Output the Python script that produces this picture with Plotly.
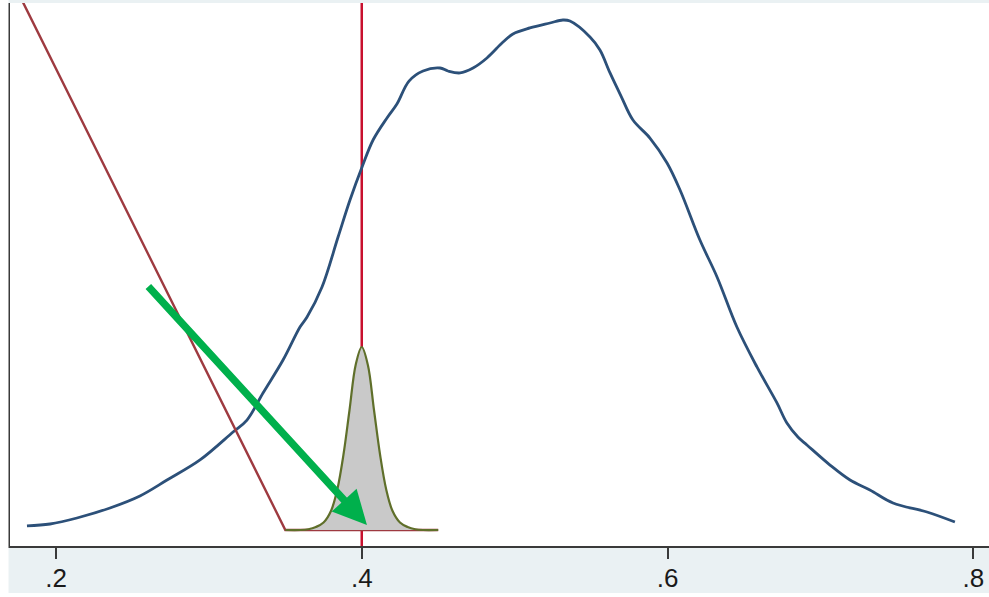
import plotly.graph_objects as go

# Posterior-like density (blue)
dens_x = [0.1810, 0.1961, 0.2137, 0.2353, 0.2549, 0.2726, 0.2942, 0.3158, 0.3249, 0.3354,
          0.3485, 0.3596, 0.3642, 0.3740, 0.3845, 0.3923, 0.4002, 0.4074, 0.4165, 0.4230,
          0.4309, 0.4401, 0.4512, 0.4564, 0.4643, 0.4728, 0.4819, 0.4924, 0.4989, 0.5100,
          0.5231, 0.5316, 0.5362, 0.5493, 0.5558, 0.5624, 0.5696, 0.5774, 0.5885, 0.5997,
          0.6082, 0.6212, 0.6324, 0.6454, 0.6585, 0.6716, 0.6781, 0.6853, 0.6912, 0.7063,
          0.7194, 0.7324, 0.7475, 0.7697, 0.7880]
dens_y = [0.027, 0.040, 0.080, 0.147, 0.227, 0.333, 0.467, 0.653, 0.733, 0.913,
          1.133, 1.353, 1.420, 1.620, 1.953, 2.200, 2.420, 2.600, 2.747, 2.840,
          2.993, 3.060, 3.080, 3.060, 3.047, 3.080, 3.147, 3.253, 3.307, 3.347,
          3.380, 3.400, 3.393, 3.287, 3.200, 3.047, 2.893, 2.733, 2.613, 2.447,
          2.267, 1.933, 1.687, 1.353, 1.087, 0.847, 0.713, 0.620, 0.567, 0.433,
          0.333, 0.267, 0.180, 0.120, 0.053]

# Prior line (dark red)
prior_x = [0.170, 0.350, 0.450]
prior_y = [3.69, 0.0, 0.0]

# Narrow peaked curve (gray fill)
peak_x = [0.350, 0.360, 0.365, 0.370, 0.375, 0.380, 0.384, 0.388, 0.392, 0.396, 0.400,
          0.404, 0.408, 0.412, 0.416, 0.420, 0.425, 0.430, 0.435, 0.440, 0.450]
peak_y = [0.0, 0.0, 0.005, 0.02, 0.05, 0.13, 0.27, 0.50, 0.80, 1.10, 1.22,
          1.10, 0.80, 0.50, 0.27, 0.13, 0.05, 0.02, 0.005, 0.0, 0.0]

ref_x = 0.4
tick_vals = [0.2, 0.4, 0.6, 0.8]
tick_text = ['.2', '.4', '.6', '.8']

# Arrow endpoints (data coords)
arrow_tail = (0.2595, 1.633)
arrow_head = (0.4034, 0.033)

fig = go.Figure()
fig.add_trace(go.Scatter(x=[ref_x, ref_x], y=[-0.5, 4.0], mode='lines',
                         line=dict(color='#C8102E', width=2.5), hoverinfo='skip'))
fig.add_trace(go.Scatter(x=dens_x, y=dens_y, mode='lines', line_shape='spline',
                         line=dict(color='#2C5079', width=2.8), hoverinfo='skip'))
fig.add_trace(go.Scatter(x=prior_x, y=prior_y, mode='lines',
                         line=dict(color='#9E3A40', width=2.4), hoverinfo='skip'))
fig.add_trace(go.Scatter(x=peak_x, y=peak_y, mode='lines', line_shape='spline',
                         fill='toself', fillcolor='#C9C9C9',
                         line=dict(color='#5F6F2A', width=2.2), hoverinfo='skip'))

fig.add_annotation(x=arrow_head[0], y=arrow_head[1], ax=arrow_tail[0], ay=arrow_tail[1],
                   xref='x', yref='y', axref='x', ayref='y', text='', showarrow=True,
                   arrowhead=2, arrowsize=0.9, arrowwidth=7.5, arrowcolor='#00B04C',
                   standoff=0, startstandoff=0)

W, H = 989, 597
L, R, T, B = 10, 0, 3, 51
pw = W - L - R
ph = H - T - B

fig.update_layout(
    width=W, height=H,
    margin=dict(l=L, r=R, t=T, b=B, pad=0),
    paper_bgcolor='#EAF1F3', plot_bgcolor='white',
    showlegend=False,
    xaxis=dict(range=[0.1699, 0.8103], tickvals=tick_vals, ticktext=tick_text,
               showgrid=False, zeroline=False, showline=True, linecolor='#3A3A3A', linewidth=2,
               ticks='outside', ticklen=11, tickwidth=2, tickcolor='#3A3A3A',
               ticklabelstandoff=-3,
               tickfont=dict(family='Liberation Sans, Arial', size=26, color='#1A1A1A')),
    yaxis=dict(range=[-0.1067, 3.5133], showticklabels=False, ticks='',
               showgrid=False, zeroline=False, showline=True, linecolor='#3A3A3A', linewidth=2),
    shapes=[
        dict(type='rect', xref='paper', yref='paper', x0=-12 / pw, x1=-1.5 / pw,
             y0=-(B + 5) / ph, y1=1 + (T + 5) / ph, fillcolor='white', line_width=0, layer='above'),
        dict(type='rect', xref='paper', yref='paper', x0=-12 / pw, x1=1.02,
             y0=-(B + 5) / ph, y1=-(B - 4) / ph, fillcolor='white', line_width=0, layer='above'),
    ],
)

fig.write_html('out.html')
